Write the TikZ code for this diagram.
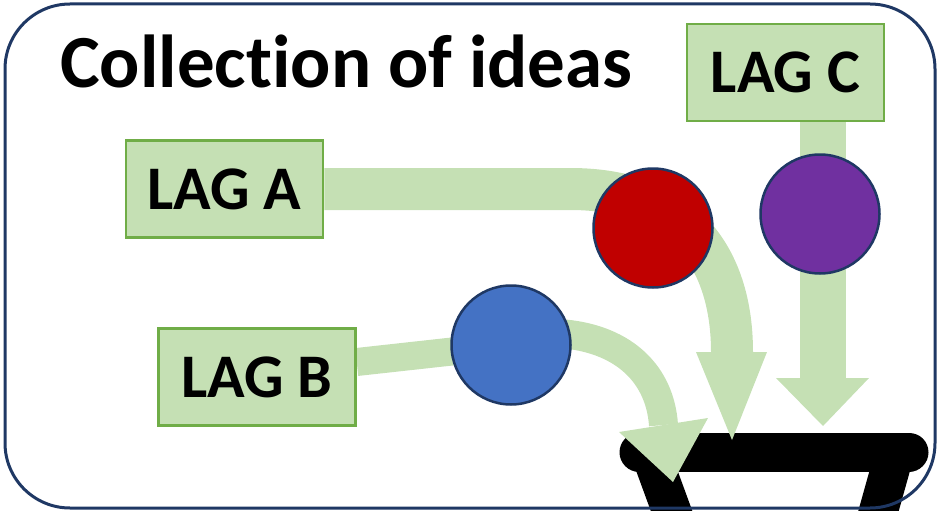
\documentclass[tikz,border=0pt]{standalone}
\usepackage{fontspec}
\setmainfont{Carlito}[Ligatures={NoCommon}]
\definecolor{lgreen}{HTML}{C5E0B4}
\definecolor{dgreen}{HTML}{70AD47}
\definecolor{navy}{HTML}{1F3864}
\definecolor{cred}{HTML}{C00000}
\definecolor{cpurple}{HTML}{7030A0}
\definecolor{cblue}{HTML}{4472C4}
\tikzset{
  lagbox/.style={draw=dgreen, fill=lgreen, line width=2.5pt, inner sep=0pt,
     minimum width=197pt, minimum height=97pt, font=\fontsize{62}{70}\selectfont\bfseries},
  dot/.style={circle, draw=navy, line width=2.5pt, minimum size=119pt, inner sep=0pt},
  flow/.style={draw=lgreen},
  headfill/.style={fill=lgreen},
  funnel/.style={draw=black, line width=39pt}
}
\begin{document}
\begin{tikzpicture}[x=1pt,y=-1pt]
\useasboundingbox (0,0) rectangle (940,511);
% funnel
\draw[funnel, line cap=round] (639,452) -- (909,452);
\draw[funnel] (650,452) -- (684,545);
\draw[funnel] (895,452) -- (869,545);
% named nodes (placed first so connectors can refer to them)
\path (224.5,189) node[lagbox] (lagA) {\phantom{LAG A}};
\path (257,377) node[lagbox] (lagB) {\phantom{LAG B}};
\path (785.5,72.5) node[lagbox] (lagC) {\phantom{LAG C}};
\path (653,228) node[dot, draw=none] (red) {};
\path (820,214) node[dot, draw=none] (purple) {};
\path (511,345) node[dot, draw=none] (blue) {};
% arrow coordinates
\coordinate (baseA) at (732,352);
\coordinate (tipA) at (732,440);
\coordinate (baseC) at (822.5,378);
\coordinate (tipC) at (823,426);
\coordinate (baseB) at (663.5,425);
\coordinate (tipB) at (673,482);
% arrow bodies (behind circles)
\path[flow, line width=42pt] (lagA.east) -- (570,189) .. controls (690,189) and (732,265) .. (baseA);
\path[flow, line width=46pt] ([xshift=37pt]lagC.south) -- (baseC);
\path[flow, line width=28pt] ([yshift=15pt]lagB.east) -- (blue.center);
\path[flow, line width=29pt] (blue.center) -- (565,334) .. controls (625,340) and (660,375) .. (baseB);
% heads
\fill[headfill] (696,352) -- (tipA) -- (767,352) -- cycle;
\fill[headfill] (776,378) -- (tipC) -- (869,378) -- cycle;
\fill[headfill] (619,432) -- (tipB) -- (708,418) -- cycle;
% nodes drawn on top
\node[lagbox] (lagAv) at (lagA) {LAG A};
\node[lagbox] (lagBv) at (lagB) {LAG B};
\node[lagbox] (lagCv) at (lagC) {LAG C};
\node[dot, fill=cred] (redv) at (red) {};
\node[dot, fill=cpurple] (purplev) at (purple) {};
\node[dot, fill=cblue] (bluev) at (blue) {};
% title
\node[anchor=base west, inner sep=0pt, font=\fontsize{75}{80}\selectfont\bfseries] (title) at (60,88) {Collection of ideas};
% frame
\draw[navy, line width=3pt, rounded corners=65pt] (5,4) rectangle (935,508);
\end{tikzpicture}
\end{document}
